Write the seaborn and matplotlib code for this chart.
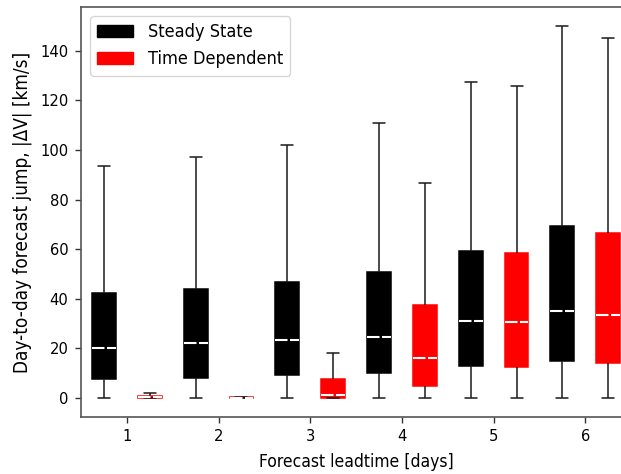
import numpy as np
import pandas as pd
import matplotlib
matplotlib.use("Agg")
import matplotlib.pyplot as plt
import seaborn as sns
from matplotlib.patches import Patch

days = [1, 2, 3, 4, 5, 6]
models = ["Steady State", "Time Dependent"]
colors = {"Steady State": "black", "Time Dependent": "red"}

# five-number summaries: min, q1, median, q3, max
ss_min = [0, 0, 0, 0, 0, 0]
ss_q1 = [7.5, 8.1, 9.3, 10.2, 12.9, 14.9]
ss_med = [20.3, 22.2, 23.5, 24.8, 31.2, 35.0]
ss_q3 = [42.4, 43.9, 46.7, 50.7, 59.2, 69.3]
ss_max = [93.4, 97.2, 102.1, 110.7, 127.5, 150.0]

td_min = [0, 0, 0, 0, 0, 0]
td_q1 = [0.0, 0.0, 0.0, 4.7, 12.6, 14.0]
td_med = [0.5, 0.2, 1.1, 16.0, 30.5, 33.4]
td_q3 = [1.0, 0.5, 7.5, 37.7, 58.4, 66.6]
td_max = [1.9, 0.6, 18.1, 86.7, 125.9, 145.0]

rows = []
for i, d in enumerate(days):
    for v in (ss_min[i], ss_q1[i], ss_med[i], ss_q3[i], ss_max[i]):
        rows.append((d, "Steady State", v))
    for v in (td_min[i], td_q1[i], td_med[i], td_q3[i], td_max[i]):
        rows.append((d, "Time Dependent", v))
df = pd.DataFrame(rows, columns=["day", "model", "value"])

sns.set_theme(style="ticks")
plt.rcParams["font.family"] = ["DejaVu Sans"]
plt.rcParams["font.stretch"] = "condensed"
plt.rcParams["text.color"] = "black"
plt.rcParams["axes.labelcolor"] = "black"
plt.rcParams["xtick.labelcolor"] = "black"
plt.rcParams["ytick.labelcolor"] = "black"

fig = plt.figure(figsize=(6.21, 4.74), dpi=100)
ax = fig.add_axes([0.1304, 0.1209, 0.886, 0.864])

sns.boxplot(data=df, x="day", y="value", hue="model", hue_order=models,
            palette=colors, saturation=1, width=1.0, gap=0.48,
            whis=(0, 100), showfliers=False, linecolor="#1a1a1a", linewidth=1.1,
            medianprops=dict(color="white", linewidth=1.5, linestyle=(0, (6, 1.2))),
            legend=False, ax=ax)

for p in ax.patches:
    p.set_edgecolor(p.get_facecolor())

ax.set_xlim(-0.5, 5.5)
ax.set_ylim(-7.5, 157.5)
ax.set_yticks(np.arange(0, 141, 20))
ax.set_xlabel("Forecast leadtime [days]", fontsize=12.5, labelpad=6)
ax.set_ylabel("Day-to-day forecast jump, |ΔV| [km/s]", fontsize=13.6, labelpad=6)
ax.tick_params(labelsize=11.8, length=4, width=1, color="#333333", pad=5,
               labelcolor="black")
for s in ax.spines.values():
    s.set_color("#555555")
    s.set_linewidth(1.2)

handles = [Patch(facecolor=colors[m], edgecolor=colors[m], label=m) for m in models]
ax.legend(handles=handles, loc="upper left", fontsize=13, frameon=True,
          edgecolor="0.8", fancybox=True)

fig.savefig("out.png", dpi=100)
